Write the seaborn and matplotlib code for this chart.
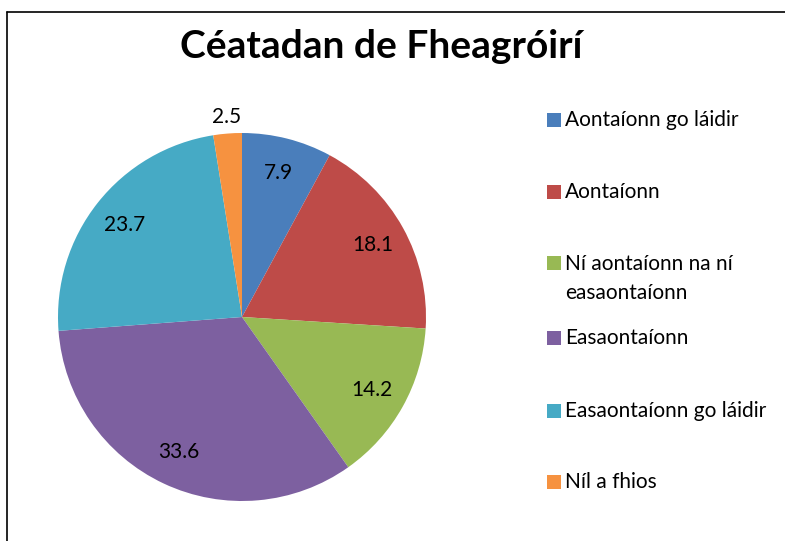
import numpy as np
import matplotlib
matplotlib.use("Agg")
import matplotlib.pyplot as plt
import seaborn as sns
from matplotlib.patches import Rectangle
from matplotlib.lines import Line2D

# data
categories = ["Aontaíonn go láidir", "Aontaíonn", "Ní aontaíonn na ní\neasaontaíonn",
              "Easaontaíonn", "Easaontaíonn go láidir", "Níl a fhios"]
values = [7.9, 18.1, 14.2, 33.6, 23.7, 2.5]
value_labels = ["7.9", "18.1", "14.2", "33.6", "23.7", "2.5"]
hex_colors = ["#4a7ebb", "#be4b48", "#98b954", "#7d60a0", "#46aac5", "#f69240"]

sns.set_theme(style="white")
plt.rcParams['font.family'] = ['Lato', 'DejaVu Sans']
colors = sns.color_palette(hex_colors)

W, H = 785, 541
fig = plt.figure(figsize=(W / 100, H / 100), dpi=100)
fig.patch.set_facecolor("white")

def fx(px):
    return px / W

def fy(py):
    return 1 - py / H

# chart frame (only left and top edges show)
fig.add_artist(Line2D([fx(7), fx(7)], [fy(12), 0], color="black", lw=1.2))
fig.add_artist(Line2D([fx(7), 1], [fy(12), fy(12)], color="black", lw=1.2))

fig.text(fx(381), fy(47), "Céatadan de Fheagróirí", ha="center", va="center",
         fontsize=28, fontweight="bold", color="black")

# pie
cx, cy, r = 242, 317, 184
ax = fig.add_axes([fx(cx - r), fy(cy + r), 2 * r / W, 2 * r / H])
wedges, _ = ax.pie(values, colors=colors, startangle=90, counterclock=False,
                   wedgeprops=dict(linewidth=0))
ax.set_xlim(-1, 1)
ax.set_ylim(-1, 1)
ax.set_aspect("equal")
ax.axis("off")

for i, w in enumerate(wedges):
    theta = np.deg2rad((w.theta1 + w.theta2) / 2)
    dist = 1.09 if values[i] < 5 else 0.81
    ax.text(dist * np.cos(theta), dist * np.sin(theta), value_labels[i],
            ha="center", va="center", fontsize=15, color="black")

# legend
legend_y = [120, 192, 263, 338, 411, 482]
for i, lab in enumerate(categories):
    y = legend_y[i]
    n_lines = lab.count("\n") + 1
    fig.add_artist(Rectangle((fx(547), fy(y + 7)), 14 / W, 14 / H, facecolor=colors[i],
                             edgecolor="none", transform=fig.transFigure))
    fig.text(fx(565), fy(y + (n_lines - 1) * 15.5), lab, ha="left", va="center",
             fontsize=15, color="black", linespacing=1.6)

fig.savefig("out.png", dpi=100)
